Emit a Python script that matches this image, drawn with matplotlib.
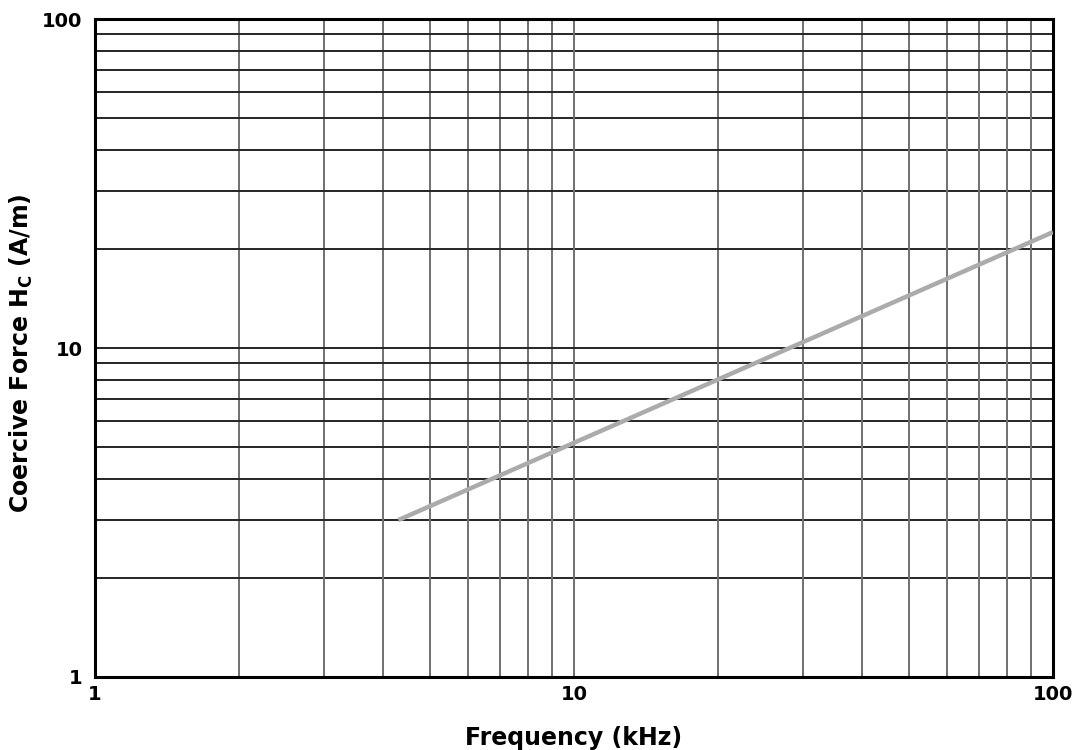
import matplotlib
matplotlib.use('Agg')
import matplotlib.pyplot as plt
from matplotlib.ticker import FixedLocator, NullFormatter

# curve end points (frequency kHz, coercive force A/m)
freq = [4.3, 100]
hc = [3.0, 22.5]

x_ticks = [1, 10, 100]
x_labels = ['1', '10', '100']
y_ticks = [1, 10, 100]
y_labels = ['1', '10', '100']
minor = [2, 3, 4, 5, 6, 7, 8, 9, 20, 30, 40, 50, 60, 70, 80, 90]

plt.rcParams['font.family'] = ['DejaVu Sans']
plt.rcParams['font.weight'] = 'bold'
plt.rcParams['mathtext.default'] = 'bf'

fig = plt.figure(figsize=(10.74, 7.5), dpi=100)
ax = fig.add_axes([95/1074, 73/750, 958/1074, 658/750])
ax.set_xscale('log')
ax.set_yscale('log')
ax.set_xlim(1, 100)
ax.set_ylim(1, 100)

# grid
for v in minor + [10]:
    ax.axvline(v, color='#707070', lw=1.4, zorder=1)
    ax.axhline(v, color='#252525', lw=1.4, zorder=1)

ax.plot(freq, hc, color='#ababab', lw=3.2, solid_capstyle='butt', zorder=3)

ax.xaxis.set_major_locator(FixedLocator(x_ticks))
ax.yaxis.set_major_locator(FixedLocator(y_ticks))
ax.xaxis.set_minor_locator(FixedLocator([]))
ax.yaxis.set_minor_locator(FixedLocator([]))
ax.xaxis.set_minor_formatter(NullFormatter())
ax.yaxis.set_minor_formatter(NullFormatter())
ax.set_xticklabels(x_labels, fontsize=14, fontweight='bold')
ax.set_yticklabels(y_labels, fontsize=14, fontweight='bold')
ax.tick_params(length=0)
ax.tick_params(axis='y', pad=9)
ax.tick_params(axis='x', pad=6)
for s in ax.spines.values():
    s.set_linewidth(2.2)
    s.set_color('black')

fig.text(574/1074, 1 - 738/750, 'Frequency (kHz)', fontsize=17, fontweight='bold',
         ha='center', va='center')
fig.text(21/1074, 1 - 353/750, 'Coercive Force H$_\\mathbf{C}$ (A/m)', fontsize=17,
         fontweight='bold', ha='center', va='center', rotation=90)

fig.savefig('out.png', dpi=100)
